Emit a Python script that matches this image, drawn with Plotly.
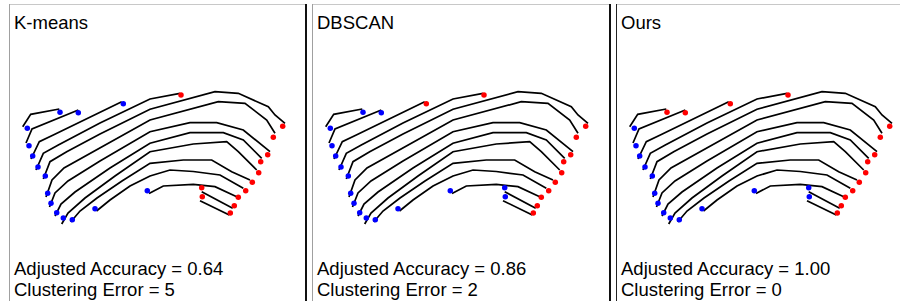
import plotly.graph_objects as go

# ---------------- data (panel-local pixel-like coordinates, y downwards) ----------------
methods = ["K-means", "DBSCAN", "Ours"]
adjusted_accuracy = ["0.64", "0.86", "1.00"]
clustering_error = [5, 2, 0]

fiber01 = [(22.7, 126.7), (30.7, 114.3), (59.3, 109.0)]
fiber02 = [(26.0, 143.0), (32.0, 129.0), (78.3, 110.0)]
fiber03 = [(31.0, 159.0), (39.3, 141.7), (53.3, 135.0), (121.7, 101.7)]
fiber04 = [(36.0, 170.0), (43.3, 153.3), (58.3, 145.0), (100.0, 123.0), (150.0, 99.0), (180.0, 93.3)]
fiber05 = [(43.3, 179.0), (50.0, 161.7), (66.7, 151.7), (100.0, 134.0), (150.0, 109.3), (215.0, 91.7),
           (238.3, 93.3), (268.3, 106.7), (275.0, 115.0), (285.0, 123.3)]
fiber06 = [(46.0, 197.0), (52.0, 180.0), (64.0, 168.0), (100.0, 148.0), (150.0, 120.0), (218.3, 101.7),
           (245.0, 103.3), (266.7, 120.0), (275.0, 133.3)]
fiber07 = [(49.5, 207.0), (55.0, 193.0), (68.0, 181.0), (100.0, 161.0), (150.0, 131.7), (190.0, 122.7),
           (216.7, 122.7), (243.3, 130.0), (270.0, 151.7)]
fiber08 = [(55.0, 216.0), (61.0, 204.0), (75.0, 192.0), (110.0, 168.0), (150.0, 143.3), (190.0, 132.7),
           (223.3, 132.7), (243.3, 140.0), (261.7, 158.3)]
fiber09 = [(61.7, 224.0), (68.0, 213.0), (85.0, 198.0), (115.0, 176.0), (150.0, 151.7), (193.3, 144.0),
           (226.7, 141.7), (238.3, 151.7), (256.7, 170.0)]
fiber10 = [(70.7, 222.0), (80.0, 211.0), (97.0, 198.0), (122.0, 181.0), (150.0, 163.3), (183.3, 160.0),
           (211.7, 160.0), (231.7, 171.7), (250.0, 180.0)]
fiber11 = [(96.5, 211.0), (110.0, 200.0), (130.0, 186.0), (150.0, 176.0), (170.0, 170.0), (193.3, 171.5),
           (220.0, 175.0), (243.3, 188.3)]
fiber12 = [(149.0, 193.5), (163.3, 186.0), (193.3, 184.3), (215.0, 186.7), (236.7, 196.7)]
fiber13 = [(201.7, 191.7), (232.7, 208.3)]
fiber14 = [(200.0, 200.7), (229.3, 215.0)]
fibers = [fiber01, fiber02, fiber03, fiber04, fiber05, fiber06, fiber07,
          fiber08, fiber09, fiber10, fiber11, fiber12, fiber13, fiber14]

# fiber endpoints
start_x = [27.3, 29.0, 32.7, 38.0, 45.3, 47.7, 51.0, 56.7, 63.3, 72.3, 95.0, 147.3, 201.7, 202.3]
start_y = [128.3, 145.7, 156.0, 167.0, 176.0, 193.3, 203.3, 212.7, 218.0, 219.7, 208.7, 190.7, 187.7, 196.7]
end_x = [60.0, 78.3, 123.3, 181.0, 282.7, 273.3, 267.7, 260.7, 258.7, 252.3, 245.7, 238.3, 234.3, 230.3]
end_y = [112.3, 112.7, 103.7, 95.0, 126.3, 137.3, 154.7, 161.7, 172.7, 182.3, 190.7, 197.3, 205.7, 213.0]

# cluster labels (0 = blue, 1 = red)
kmeans_start = [0, 0, 0, 0, 0, 0, 0, 0, 0, 0, 0, 0, 1, 1]
kmeans_end = [0, 0, 0, 1, 1, 1, 1, 1, 1, 1, 1, 1, 1, 1]
dbscan_start = [0, 0, 0, 0, 0, 0, 0, 0, 0, 0, 0, 0, 0, 0]
dbscan_end = [0, 0, 1, 1, 1, 1, 1, 1, 1, 1, 1, 1, 1, 1]
ours_start = [0, 0, 0, 0, 0, 0, 0, 0, 0, 0, 0, 0, 0, 0]
ours_end = [1, 1, 1, 1, 1, 1, 1, 1, 1, 1, 1, 1, 1, 1]
labels = [(kmeans_start, kmeans_end), (dbscan_start, dbscan_end), (ours_start, ours_end)]

cluster_colors = ["#0000ff", "#ff0000"]

# ---------------- layout geometry ----------------
W, H = 900, 301
panel_offset = [0, 303, 607]
panel_width = [303, 303, 293]
box_left = [9, 312, 616]

fig = go.Figure()

for i in range(3):
    xa = "x" if i == 0 else f"x{i + 1}"
    lx, ly = [], []
    for f in fibers:
        lx += [p[0] for p in f] + [None]
        ly += [p[1] for p in f] + [None]
    fig.add_trace(go.Scatter(x=lx, y=ly, mode="lines", xaxis=xa, yaxis="y",
                             line=dict(color="black", width=1.7), hoverinfo="skip",
                             showlegend=False))
    s_lab, e_lab = labels[i]
    px = start_x + end_x
    py = start_y + end_y
    cols = [cluster_colors[c] for c in s_lab + e_lab]
    fig.add_trace(go.Scatter(x=px, y=py, mode="markers", xaxis=xa, yaxis="y",
                             marker=dict(color=cols, size=5.5, line=dict(width=0)),
                             showlegend=False))

layout_axes = {}
for i in range(3):
    key = "xaxis" if i == 0 else f"xaxis{i + 1}"
    d0 = panel_offset[i] / W
    d1 = min(1.0, (panel_offset[i] + panel_width[i]) / W)
    ax = dict(domain=[d0, d1], range=[0, panel_width[i]], visible=False, fixedrange=True)
    if i > 0:
        ax["anchor"] = "y"
    layout_axes[key] = ax

fig.update_layout(
    width=W, height=H,
    margin=dict(l=0, r=0, t=0, b=0),
    paper_bgcolor="white", plot_bgcolor="white",
    yaxis=dict(domain=[0, 1], range=[H, 0], visible=False, fixedrange=True),
    **layout_axes,
)

def px2x(p):
    return p / W

def px2y(p):
    return 1 - p / H

shapes = []
for i in range(3):
    bl = box_left[i]
    right = [306, 610, 900][i]
    # top border
    shapes.append(dict(type="line", xref="paper", yref="paper",
                       x0=px2x(bl), x1=px2x(right), y0=px2y(4.5), y1=px2y(4.5),
                       line=dict(color="#c8c8c8", width=1)))
    # left border
    shapes.append(dict(type="line", xref="paper", yref="paper",
                       x0=px2x(bl + 0.5), x1=px2x(bl + 0.5), y0=px2y(4), y1=0,
                       line=dict(color="#a0a0a0" if i < 2 else "#222222", width=1)))
# dark separators
for sx in [306, 610]:
    shapes.append(dict(type="line", xref="paper", yref="paper",
                       x0=px2x(sx), x1=px2x(sx), y0=px2y(4), y1=0,
                       line=dict(color="#111111", width=2)))
fig.update_layout(shapes=shapes)

font = dict(family="Liberation Sans, Arial, Helvetica, sans-serif", size=18.5, color="black")
annotations = []
for i in range(3):
    tx = px2x(box_left[i] + 3)
    annotations.append(dict(text=methods[i], x=tx, y=px2y(22), xref="paper", yref="paper",
                            xanchor="left", yanchor="middle", showarrow=False, font=font))
    annotations.append(dict(text=f"Adjusted Accuracy = {adjusted_accuracy[i]}", x=tx, y=px2y(268),
                            xref="paper", yref="paper", xanchor="left", yanchor="middle",
                            showarrow=False, font=font))
    annotations.append(dict(text=f"Clustering Error = {clustering_error[i]}", x=tx, y=px2y(289),
                            xref="paper", yref="paper", xanchor="left", yanchor="middle",
                            showarrow=False, font=font))
fig.update_layout(annotations=annotations)

fig.write_html("out.html",
               config={"displayModeBar": False, "staticPlot": True},
               post_script="document.body.style.margin='0';document.body.style.overflow='hidden';")
